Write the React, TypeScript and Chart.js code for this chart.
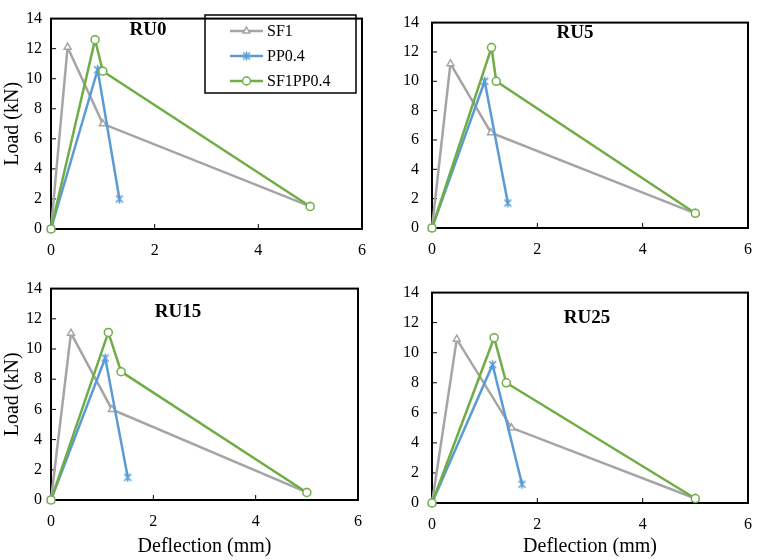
import { useEffect, useRef } from 'react';
import { Chart, registerables } from 'chart.js';
import { drawPoint } from 'chart.js/helpers';

Chart.register(...registerables);

// ---- data ----
const seriesNames = ['SF1', 'PP0.4', 'SF1PP0.4'];
const seriesColors = ['#A5A5A5', '#5B9BD5', '#70AD47'];

const xTicks = [0, 2, 4, 6];
const yTicks = [0, 2, 4, 6, 8, 10, 12, 14];

const ru0SF1X = [0, 0.32, 1.0, 5.0];
const ru0SF1Y = [0, 12.1, 7.0, 1.5];
const ru0PPX = [0, 0.9, 1.32];
const ru0PPY = [0, 10.6, 2.0];
const ru0MixX = [0, 0.85, 1.0, 5.0];
const ru0MixY = [0, 12.6, 10.5, 1.5];

const ru5SF1X = [0, 0.35, 1.12, 5.0];
const ru5SF1Y = [0, 11.2, 6.5, 1.0];
const ru5PPX = [0, 1.0, 1.44];
const ru5PPY = [0, 10.0, 1.7];
const ru5MixX = [0, 1.13, 1.22, 5.0];
const ru5MixY = [0, 12.3, 10.0, 1.0];

const ru15SF1X = [0, 0.39, 1.19, 5.0];
const ru15SF1Y = [0, 11.05, 6.0, 0.5];
const ru15PPX = [0, 1.06, 1.5];
const ru15PPY = [0, 9.4, 1.5];
const ru15MixX = [0, 1.12, 1.37, 5.0];
const ru15MixY = [0, 11.1, 8.5, 0.5];

const ru25SF1X = [0, 0.47, 1.51, 5.0];
const ru25SF1Y = [0, 10.9, 5.0, 0.3];
const ru25PPX = [0, 1.15, 1.71];
const ru25PPY = [0, 9.2, 1.25];
const ru25MixX = [0, 1.18, 1.41, 5.0];
const ru25MixY = [0, 11.0, 8.0, 0.3];

const panelTitles = ['RU0', 'RU5', 'RU15', 'RU25'];
const panelSeries = [
  [[ru0SF1X, ru0SF1Y], [ru0PPX, ru0PPY], [ru0MixX, ru0MixY]],
  [[ru5SF1X, ru5SF1Y], [ru5PPX, ru5PPY], [ru5MixX, ru5MixY]],
  [[ru15SF1X, ru15SF1Y], [ru15PPX, ru15PPY], [ru15MixX, ru15MixY]],
  [[ru25SF1X, ru25SF1Y], [ru25PPX, ru25PPY], [ru25MixX, ru25MixY]],
];

// ---- layout ----
const SERIF = "'Liberation Serif', 'Times New Roman', serif";

interface PanelLayout {
  left: number;
  top: number;
  width: number;
  height: number;
  yAxisW: number;
  xAxisH: number;
  padTop: number;
  padRight: number;
  yTickPad: number;
  yTitle: boolean;
  xTitle: boolean;
  legend: boolean;
  titleX: number;
  titleY: number;
}

const layouts: PanelLayout[] = [
  { left: 0, top: 0, width: 380, height: 270, yAxisW: 51, xAxisH: 41, padTop: 5, padRight: 18, yTickPad: 9, yTitle: true, xTitle: false, legend: true, titleX: 148, titleY: 30 },
  { left: 380, top: 0, width: 384, height: 270, yAxisW: 52, xAxisH: 42, padTop: 5, padRight: 6, yTickPad: 13, yTitle: false, xTitle: false, legend: false, titleX: 195, titleY: 33 },
  { left: 0, top: 270, width: 380, height: 290, yAxisW: 51, xAxisH: 60, padTop: 14, padRight: 22, yTickPad: 9, yTitle: true, xTitle: true, legend: false, titleX: 178, titleY: 42 },
  { left: 380, top: 270, width: 384, height: 290, yAxisW: 52, xAxisH: 57, padTop: 17, padRight: 3, yTickPad: 13, yTitle: false, xTitle: true, legend: false, titleX: 207, titleY: 48 },
];

// Excel-like asterisk marker: an X with a vertical stroke
const makeStar = (color: string) => {
  const c = document.createElement('canvas');
  c.width = 11;
  c.height = 11;
  const g = c.getContext('2d')!;
  g.strokeStyle = color;
  g.lineWidth = 1.5;
  g.beginPath();
  g.moveTo(2, 2);
  g.lineTo(9, 9);
  g.moveTo(9, 2);
  g.lineTo(2, 9);
  g.moveTo(5.5, 1);
  g.lineTo(5.5, 10);
  g.stroke();
  return c;
};

const starMarker = makeStar(seriesColors[1]);
const seriesMarkers: any[] = ['triangle', starMarker, 'circle'];

const markerStyle = (i: number) => ({
  pointStyle: seriesMarkers[i],
  radius: 4,
  rotation: 0,
  borderWidth: 1.5,
});

const framePlugin = {
  id: 'frame',
  beforeDatasetsDraw(chart: any) {
    const { ctx, chartArea: a, scales } = chart;
    ctx.save();
    ctx.strokeStyle = '#000';
    ctx.lineWidth = 1;
    ctx.beginPath();
    xTicks.slice(1, -1).forEach((v) => {
      const px = scales.x.getPixelForValue(v);
      ctx.moveTo(px, a.bottom);
      ctx.lineTo(px, a.bottom - 5);
    });
    yTicks.slice(1, -1).forEach((v) => {
      const py = scales.y.getPixelForValue(v);
      ctx.moveTo(a.left, py);
      ctx.lineTo(a.left + 5, py);
    });
    ctx.stroke();
    ctx.lineWidth = 2;
    ctx.strokeRect(a.left, a.top, a.right - a.left, a.bottom - a.top);
    ctx.restore();
  },
};

const decorPlugin = {
  id: 'decor',
  afterDatasetsDraw(chart: any, _args: any, opts: any) {
    const { ctx } = chart;
    ctx.save();
    ctx.fillStyle = '#000';
    ctx.font = `bold 19px ${SERIF}`;
    ctx.textAlign = 'center';
    ctx.textBaseline = 'middle';
    ctx.fillText(opts.title, opts.x, opts.y);

    if (opts.legend) {
      ctx.strokeStyle = '#000';
      ctx.lineWidth = 1.5;
      ctx.strokeRect(205, 15, 151, 78);
      ctx.font = `16px ${SERIF}`;
      ctx.textAlign = 'left';
      seriesNames.forEach((name, i) => {
        const y = 31 + i * 25;
        ctx.strokeStyle = seriesColors[i];
        ctx.lineWidth = 2.5;
        ctx.beginPath();
        ctx.moveTo(230, y);
        ctx.lineTo(263, y);
        ctx.stroke();
        ctx.fillStyle = '#fff';
        ctx.lineWidth = 1.5;
        drawPoint(ctx, markerStyle(i) as any, 246.5, y);
        ctx.fillStyle = '#000';
        ctx.fillText(name, 267, y + 1);
      });
    }
    ctx.restore();
  },
};

const Panel = ({ index }: { index: number }) => {
  const chartRef = useRef<HTMLCanvasElement | null>(null);
  const chartInstance = useRef<Chart | null>(null);
  const lay = layouts[index];

  useEffect(() => {
    if (!chartRef.current) return;
    if (chartInstance.current) chartInstance.current.destroy();

    chartInstance.current = new Chart(chartRef.current, {
      type: 'line',
      data: {
        datasets: panelSeries[index].map(([xs, ys], i) => ({
          label: seriesNames[i],
          data: xs.map((x, k) => ({ x, y: ys[k] })),
          borderColor: seriesColors[i],
          backgroundColor: '#fff',
          borderWidth: 2.5,
          pointStyle: seriesMarkers[i],
          pointRadius: 4,
          pointBorderWidth: 1.5,
          pointBorderColor: seriesColors[i],
          pointBackgroundColor: '#fff',
          tension: 0,
          clip: false as any,
          order: 2 - i,
        })),
      },
      options: {
        responsive: false,
        animation: false,
        layout: { padding: { top: lay.padTop, right: lay.padRight, left: 0, bottom: 0 } },
        plugins: {
          legend: { display: false },
          tooltip: { enabled: false },
          decor: { title: panelTitles[index], x: lay.titleX, y: lay.titleY, legend: lay.legend },
        } as any,
        scales: {
          x: {
            type: 'linear',
            min: 0,
            max: 6,
            afterFit: (s: any) => { s.height = lay.xAxisH; },
            afterBuildTicks: (s: any) => { s.ticks = xTicks.map((v) => ({ value: v })); },
            grid: { display: false, drawTicks: false },
            border: { display: false },
            ticks: { color: '#000', padding: 12, font: { family: SERIF, size: 16 } },
            title: {
              display: lay.xTitle,
              text: 'Deflection (mm)',
              color: '#000',
              font: { family: SERIF, size: 20 },
              padding: { top: 0, bottom: 1 },
            },
          },
          y: {
            type: 'linear',
            min: 0,
            max: 14,
            afterFit: (s: any) => { s.width = lay.yAxisW; },
            afterBuildTicks: (s: any) => { s.ticks = yTicks.map((v) => ({ value: v })); },
            grid: { display: false, drawTicks: false },
            border: { display: false },
            ticks: { color: '#000', padding: lay.yTickPad, font: { family: SERIF, size: 16 } },
            title: {
              display: lay.yTitle,
              text: 'Load (kN)',
              color: '#000',
              font: { family: SERIF, size: 20 },
              padding: { top: 1, bottom: 0 },
            },
          },
        },
      },
      plugins: [framePlugin, decorPlugin],
    });

    return () => {
      if (chartInstance.current) {
        chartInstance.current.destroy();
        chartInstance.current = null;
      }
    };
  }, [index]);

  return (
    <div style={{ position: 'absolute', left: lay.left, top: lay.top, width: lay.width, height: lay.height }}>
      <canvas ref={chartRef} width={lay.width} height={lay.height} style={{ width: lay.width, height: lay.height }} />
    </div>
  );
};

const App = () => (
  <div style={{ position: 'absolute', left: 0, top: 0, width: 764, height: 560, background: '#fff', overflow: 'hidden' }}>
    {layouts.map((_, i) => (
      <Panel key={i} index={i} />
    ))}
  </div>
);

export default App;
